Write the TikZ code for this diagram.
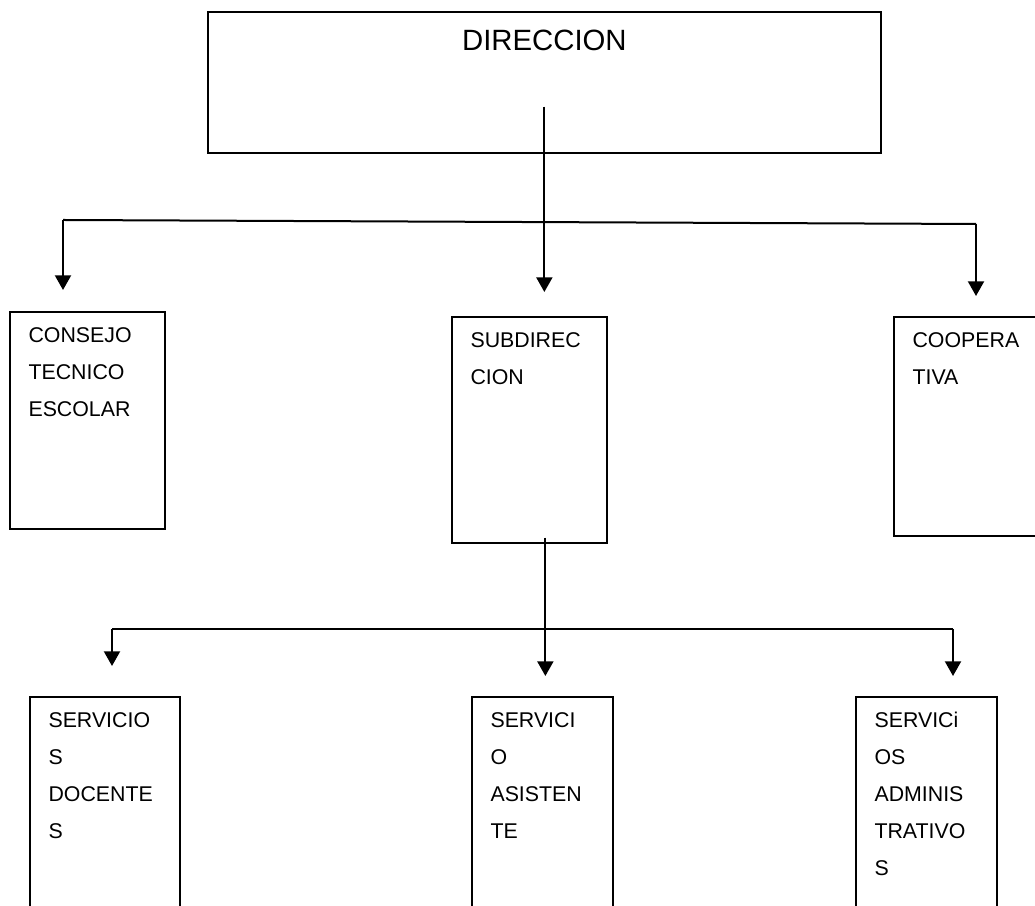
\documentclass[tikz,border=0pt]{standalone}
\usepackage{fontspec}
\setmainfont{Liberation Sans}
\usetikzlibrary{arrows.meta,calc}

\begin{document}
\begin{tikzpicture}[
  x=0.75pt, y=0.75pt,
  caja/.style = {draw, line width=1.3pt, anchor=north west, align=left,
    inner xsep=14pt, inner ysep=11.25pt, text height=12pt,
    font=\fontsize{16}{27.75}\selectfont},
  ancha/.style = {caja, text width=88.25pt},
  %angosta/.style = {caja, text width=82.5pt},
  angosta/.style = {caja, text width=77.75pt},
  linea/.style = {line width=1.5pt},
  flecha/.style = {linea, -{Triangle[width=12pt,length=11pt]}},
]
  \useasboundingbox (0,0) rectangle (1035,906);
  \clip (0,0) rectangle (1035,906);

  \node[caja, align=center, minimum width=504.75pt, inner ysep=13.25pt,
    text height=16pt, text depth=63.25pt,
    font=\fontsize{22}{26}\selectfont] (dir) at (207,895) {DIRECCION};

  \node[ancha, text depth=128.25pt] (consejo) at (9,595) {CONSEJO\\TECNICO\\ESCOLAR};
  \node[ancha, text depth=135pt] (subdir) at (451,590) {SUBDIREC\\CION};
  \node[ancha, text depth=129.75pt] (coop) at (893,590) {COOPERA\\TIVA};

  \node[caja, text width=84.5pt, text depth=163.5pt] (docentes) at (29,210) {%
    SERVICIO\\S\\DOCENTE\\S};
  \node[angosta, text depth=163.5pt] (asistente) at (471,210) {%
    SERVICI\\O\\ASISTEN\\TE};
  \node[angosta, text depth=163.5pt] (admin) at (855,210) {%
    SERVICi\\OS\\ADMINIS\\TRATIVO\\S};

  % primer nivel
  \coordinate (dirpie) at ($(dir.south)+(0,47)$);
  \coordinate (ramaizq) at (63,686);
  \coordinate (ramader) at (976,682);
  \draw[linea] (ramaizq) -- (ramader);
  \draw[flecha] (dirpie) -- ($(dirpie |- subdir.north)+(0,24)$);
  \draw[flecha] (ramaizq) -- ($(ramaizq |- consejo.north)+(0,21)$);
  \draw[flecha] (ramader) -- ($(ramader |- coop.north)+(0,20)$);

  % segundo nivel
  \coordinate (subpie) at ($(subdir.south)+(16,6)$);
  \coordinate (bajaizq) at (112,277);
  \coordinate (bajader) at (953,277);
  \draw[linea] (bajaizq) -- (bajader);
  \draw[flecha] (subpie) -- ($(subpie |- asistente.north)+(0,20)$);
  \draw[flecha] (bajaizq) -- ($(bajaizq |- docentes.north)+(0,30)$);
  \draw[flecha] (bajader) -- ($(bajader |- admin.north)+(0,20)$);
\end{tikzpicture}
\end{document}
